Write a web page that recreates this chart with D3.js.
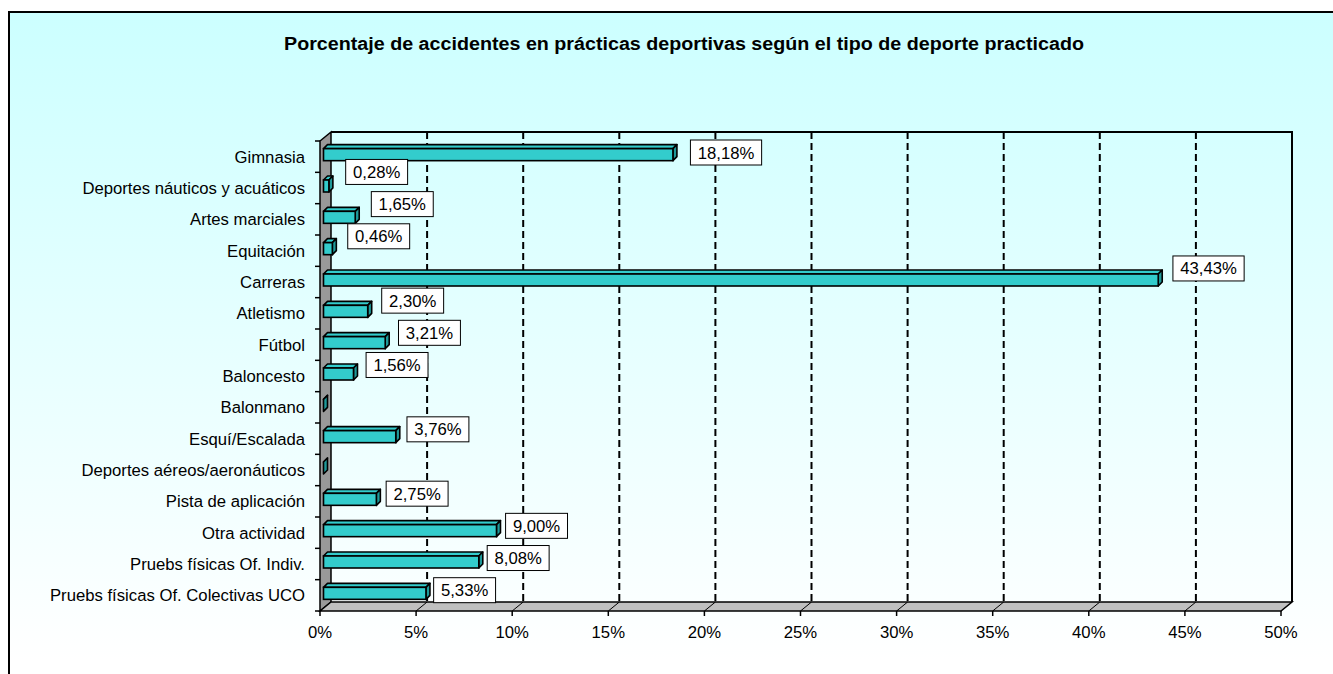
<!DOCTYPE html>
<html>
<head>
<meta charset="utf-8">
<script src="https://cdn.jsdelivr.net/npm/d3@7"></script>
<style>
  body { margin: 0; background: #ffffff; }
  text { font-family: "Liberation Sans", Arial, sans-serif; }
</style>
</head>
<body>
<div id="chart"></div>
<script>
var title = "Porcentaje de accidentes en prácticas deportivas según el tipo de deporte practicado";

var categories = [
    "Gimnasia",
    "Deportes náuticos y acuáticos",
    "Artes marciales",
    "Equitación",
    "Carreras",
    "Atletismo",
    "Fútbol",
    "Baloncesto",
    "Balonmano",
    "Esquí/Escalada",
    "Deportes aéreos/aeronáuticos",
    "Pista de aplicación",
    "Otra actividad",
    "Pruebs físicas Of. Indiv.",
    "Pruebs físicas Of. Colectivas UCO"
];

var values = [18.18, 0.28, 1.65, 0.46, 43.43, 2.30, 3.21, 1.56, 0, 3.76, 0, 2.75, 9.00, 8.08, 5.33];

var xTicks = [0, 5, 10, 15, 20, 25, 30, 35, 40, 45, 50];

var view = {
    w: 1333,
    h: 674,
    fontSize: 16.7,
    depth: { dx: 11, dy: -9 },
    bar: { h: 12, d: 4, shift: 3.5 }
};

var data = categories.map(function(c, i){ return { cat: c, value: values[i], i: i }; });

var svg = d3.select("#chart")
            .append("svg")
            .attr("width", view.w)
            .attr("height", view.h);

var defs = svg.append("defs");
var grad = defs.append("linearGradient")
    .attr("id", "bg")
    .attr("gradientUnits", "userSpaceOnUse")
    .attr("x1", 0).attr("y1", 12)
    .attr("x2", 0).attr("y2", 660);
grad.append("stop").attr("offset", "0%").attr("stop-color", "#ccffff");
grad.append("stop").attr("offset", "100%").attr("stop-color", "#ffffff");

// chart frame, runs off the right and bottom of the page
svg.append("rect")
    .attr("x", 9).attr("y", 12)
    .attr("width", 1400).attr("height", 700)
    .style("fill", "url(#bg)")
    .style("stroke", "#000")
    .style("stroke-width", 2);

svg.append("text")
    .attr("x", 684)
    .attr("y", 50)
    .attr("text-anchor", "middle")
    .attr("textLength", 800)
    .attr("lengthAdjust", "spacingAndGlyphs")
    .style("font-size", "17.5px")
    .style("font-weight", "bold")
    .text(title);

var x = d3.scaleLinear().domain([0, 50]).range([320, 1281]),
    y = d3.scaleBand().domain(categories).range([141, 611]);

var dx = view.depth.dx, dy = view.depth.dy;
var top0 = y.range()[0], bot0 = y.range()[1];
var x0 = x(0), x1 = x(50);

var g = svg.append("g");

// back wall gridlines (dashed)
g.selectAll(".grid")
    .data(xTicks.filter(function(t){ return t > 0 && t < 50; }))
    .enter().append("line")
    .attr("x1", function(d){ return x(d) + dx; })
    .attr("x2", function(d){ return x(d) + dx; })
    .attr("y1", top0 + dy)
    .attr("y2", bot0 + dy)
    .style("stroke", "#000")
    .style("stroke-width", 2)
    .style("stroke-dasharray", "7,4");

// back wall frame: top and right
g.append("path")
    .attr("d", "M" + (x0 + dx) + "," + (top0 + dy) + "H" + (x1 + dx) + "V" + (bot0 + dy))
    .style("fill", "none")
    .style("stroke", "#000")
    .style("stroke-width", 2);

// left wall
g.append("path")
    .attr("d", "M" + x0 + "," + top0 + "L" + (x0 + dx) + "," + (top0 + dy) +
               "L" + (x0 + dx) + "," + (bot0 + dy) + "L" + x0 + "," + bot0 + "Z")
    .style("fill", "#999999")
    .style("stroke", "#000")
    .style("stroke-width", 1.5);

// floor
g.append("path")
    .attr("d", "M" + x0 + "," + bot0 + "L" + (x0 + dx) + "," + (bot0 + dy) +
               "L" + (x1 + dx) + "," + (bot0 + dy) + "L" + x1 + "," + bot0 + "Z")
    .style("fill", "#c0c0c0")
    .style("stroke", "#000")
    .style("stroke-width", 1.5);

g.selectAll(".floorgrid")
    .data(xTicks.filter(function(t){ return t > 0 && t < 50; }))
    .enter().append("line")
    .attr("x1", function(d){ return x(d) + dx; })
    .attr("y1", bot0 + dy)
    .attr("x2", function(d){ return x(d); })
    .attr("y2", bot0)
    .style("stroke", "#000")
    .style("stroke-width", 1);

// x ticks and labels
g.selectAll(".xtick")
    .data(xTicks)
    .enter().append("line")
    .attr("x1", function(d){ return x(d); })
    .attr("x2", function(d){ return x(d); })
    .attr("y1", bot0)
    .attr("y2", bot0 + 5)
    .style("stroke", "#000")
    .style("stroke-width", 1.5);

g.selectAll(".xlabel")
    .data(xTicks)
    .enter().append("text")
    .attr("x", function(d){ return x(d); })
    .attr("y", 638)
    .attr("text-anchor", "middle")
    .style("font-size", view.fontSize + "px")
    .text(function(d){ return d + "%"; });

// category ticks and labels
var bounds = categories.map(function(c){ return y(c); }).concat([bot0]);
g.selectAll(".ytick")
    .data(bounds)
    .enter().append("line")
    .attr("x1", x0 - 5)
    .attr("x2", x0)
    .attr("y1", function(d){ return d; })
    .attr("y2", function(d){ return d; })
    .style("stroke", "#000")
    .style("stroke-width", 1.5);

g.selectAll(".ylabel")
    .data(data)
    .enter().append("text")
    .attr("x", 305)
    .attr("y", function(d){ return y(d.cat) + y.bandwidth() / 2 + 6; })
    .attr("text-anchor", "end")
    .style("font-size", view.fontSize + "px")
    .text(function(d){ return d.cat; });

// 3D bars
var b = view.bar;
var bars = g.selectAll(".bar")
    .data(data)
    .enter().append("g")
    .attr("class", "bar");

function barTop(d){ return y(d.cat) + y.bandwidth() / 2 - 8; }
function bx0(d){ return x(0) + b.shift; }
function bx1(d){ return x(d.value) + b.shift; }

bars.append("path")
    .attr("d", function(d){
        var t = barTop(d);
        return "M" + bx0(d) + "," + t + "L" + (bx0(d) + b.d) + "," + (t - b.d) +
               "L" + (bx1(d) + b.d) + "," + (t - b.d) + "L" + bx1(d) + "," + t + "Z";
    })
    .style("fill", "#33cccc")
    .style("stroke", "#000")
    .style("stroke-width", 1.6)
    .style("stroke-linejoin", "round");

bars.append("path")
    .attr("d", function(d){
        var t = barTop(d);
        return "M" + bx1(d) + "," + t + "L" + (bx1(d) + b.d) + "," + (t - b.d) +
               "L" + (bx1(d) + b.d) + "," + (t - b.d + b.h) + "L" + bx1(d) + "," + (t + b.h) + "Z";
    })
    .style("fill", "#1f9999")
    .style("stroke", "#000")
    .style("stroke-width", 1.6)
    .style("stroke-linejoin", "round");

bars.append("rect")
    .attr("x", bx0)
    .attr("y", barTop)
    .attr("width", function(d){ return bx1(d) - bx0(d); })
    .attr("height", b.h)
    .style("fill", "#33cccc")
    .style("stroke", "#000")
    .style("stroke-width", 1.6);

// data labels
var fmt = d3.format(".2f");
var labels = g.selectAll(".dlabel")
    .data(data.filter(function(d){ return d.value > 0; }))
    .enter().append("g")
    .attr("class", "dlabel");

labels.each(function(d){
    var sel = d3.select(this);
    var rect = sel.append("rect");
    var txt = sel.append("text")
        .attr("text-anchor", "middle")
        .style("font-size", view.fontSize + "px")
        .text(fmt(d.value).replace(".", ",") + "%");
    var tw = txt.node().getComputedTextLength();
    var bw = tw + 14.6, bh = 25;
    var left = x(d.value) + (21 - 0.7 * d.i);
    var cy = y(d.cat) + y.bandwidth() / 2 + (-16.9 + 0.84 * d.i);
    var top = Math.max(top0 - 1, cy - bh / 2);
    rect.attr("x", left).attr("y", top)
        .attr("width", bw).attr("height", bh)
        .style("fill", "#fff")
        .style("stroke", "#000")
        .style("stroke-width", 1);
    txt.attr("x", left + bw / 2).attr("y", top + bh / 2 + 6);
});
</script>
</body>
</html>
